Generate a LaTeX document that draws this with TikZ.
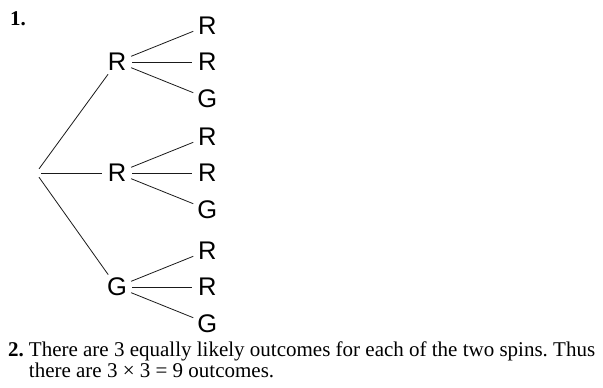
\documentclass[tikz,border=0pt]{standalone}
\usepackage{fontspec}
\setmainfont{Liberation Serif}
\newfontfamily\spinfont{Liberation Sans}
\usepackage{tikz}
\usetikzlibrary{positioning}
\definecolor{inkline}{HTML}{1A1A1A}
\tikzset{
  spin/.style={circle, minimum size=30pt, inner sep=0pt,
               font=\spinfont\fontsize{25.5}{25.5}\selectfont},
  start/.style={circle, minimum size=10pt, inner sep=0pt},
  branch/.style={draw=inkline, line width=.8pt},
  num/.style={font=\bfseries\fontsize{21}{21}\selectfont, inner sep=0pt},
  para/.style={font=\fontsize{21}{21}\selectfont\frenchspacing, inner sep=0pt}
}

\begin{document}
\begin{tikzpicture}[x=1pt, y=-1pt, node distance=6pt and 60pt]
  \useasboundingbox (0,0) rectangle (603,388);
  \node[num, anchor=base west] (q1) at (10,25) {1.};

  % first spin
  \node[start] (root) at (36,173) {};
  \node[spin] (s1) at (117,62) {R};
  \node[spin] (s2) at (117,173) {R};
  \node[spin] (s3) at (117,287) {G};

  % second spin
  \node[spin, right=of s1] (s1b) {R};
  \node[spin, above=of s1b] (s1a) {R};
  \node[spin, below=of s1b] (s1c) {G};
  \node[spin, right=of s2] (s2b) {R};
  \node[spin, above=of s2b] (s2a) {R};
  \node[spin, below=of s2b] (s2c) {G};
  \node[spin, right=of s3] (s3b) {R};
  \node[spin, above=of s3b] (s3a) {R};
  \node[spin, below=of s3b] (s3c) {G};

  \draw[branch] (root) -- (s1);
  \draw[branch] (root) -- (s2);
  \draw[branch] (root) -- (s3);
  \draw[branch] (s1) -- (s1a);
  \draw[branch] (s1) -- (s1b);
  \draw[branch] (s1) -- (s1c);
  \draw[branch] (s2) -- (s2a);
  \draw[branch] (s2) -- (s2b);
  \draw[branch] (s2) -- (s2c);
  \draw[branch] (s3) -- (s3a);
  \draw[branch] (s3) -- (s3b);
  \draw[branch] (s3) -- (s3c);

  % answer text
  \node[para, anchor=north west] (q2) at (8,342)
    {\begin{tabular}{@{}l@{\hspace{5pt}}l@{}}
       \textbf{2.} & There are 3 equally likely outcomes for each of the two spins. Thus\\
                   & there are 3 × 3 = 9 outcomes.
     \end{tabular}};
\end{tikzpicture}
\end{document}
